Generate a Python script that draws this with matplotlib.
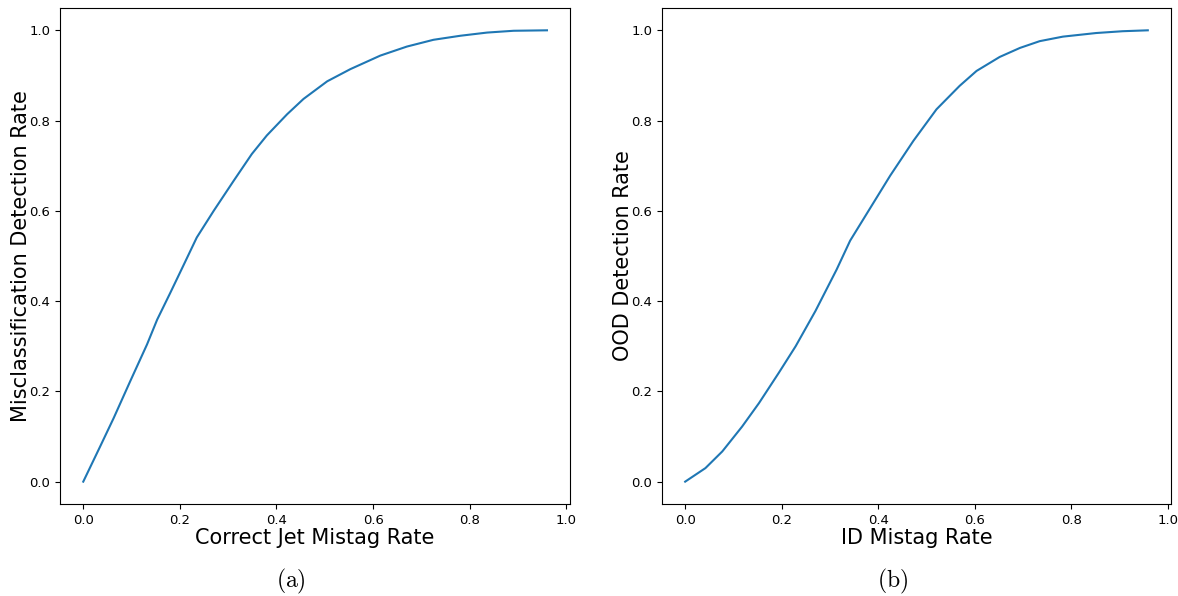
import matplotlib.pyplot as plt

plt.rcParams['mathtext.fontset'] = 'cm'

# (a) misclassification detection vs correct jet mistag rate
mis_x = [0.0, 0.035, 0.063, 0.097, 0.132, 0.153, 0.180, 0.206, 0.235, 0.270,
         0.311, 0.349, 0.380, 0.422, 0.456, 0.505, 0.553, 0.615, 0.670, 0.725,
         0.781, 0.836, 0.891, 0.960]
mis_y = [0.0, 0.078, 0.141, 0.222, 0.304, 0.359, 0.418, 0.476, 0.541, 0.600,
         0.666, 0.726, 0.767, 0.814, 0.848, 0.887, 0.914, 0.944, 0.964, 0.979,
         0.988, 0.995, 0.999, 1.0]

# (b) OOD detection vs ID mistag rate
ood_x = [0.0, 0.042, 0.077, 0.118, 0.153, 0.194, 0.229, 0.270, 0.314, 0.342,
         0.376, 0.425, 0.473, 0.521, 0.569, 0.604, 0.652, 0.694, 0.735, 0.783,
         0.852, 0.907, 0.959]
ood_y = [0.0, 0.030, 0.067, 0.122, 0.174, 0.241, 0.300, 0.378, 0.470, 0.534,
         0.593, 0.678, 0.755, 0.825, 0.877, 0.910, 0.941, 0.961, 0.976, 0.986,
         0.994, 0.998, 1.0]

fig = plt.figure(figsize=(11.78, 5.96), dpi=100)
ax1 = fig.add_axes([0.051, 0.154, 0.433, 0.833])
ax2 = fig.add_axes([0.562, 0.154, 0.432, 0.833])

ax1.plot(mis_x, mis_y)
ax1.set_xlabel("Correct Jet Mistag Rate", fontsize=15, labelpad=0.5)
ax1.set_ylabel("Misclassification Detection Rate", fontsize=15, labelpad=-1)

ax2.plot(ood_x, ood_y)
ax2.set_xlabel("ID Mistag Rate", fontsize=15, labelpad=0.5)
ax2.set_ylabel("OOD Detection Rate", fontsize=15, labelpad=-1)

for ax in (ax1, ax2):
    ax.set_xticks([0.0, 0.2, 0.4, 0.6, 0.8, 1.0])
    ax.set_yticks([0.0, 0.2, 0.4, 0.6, 0.8, 1.0])
    ax.tick_params(labelsize=9.5)

fig.text(0.247, 0.025, r'$\mathrm{(a)}$', fontsize=17, ha='center', va='center')
fig.text(0.758, 0.025, r'$\mathrm{(b)}$', fontsize=17, ha='center', va='center')

fig.savefig("out.png", dpi=100)
